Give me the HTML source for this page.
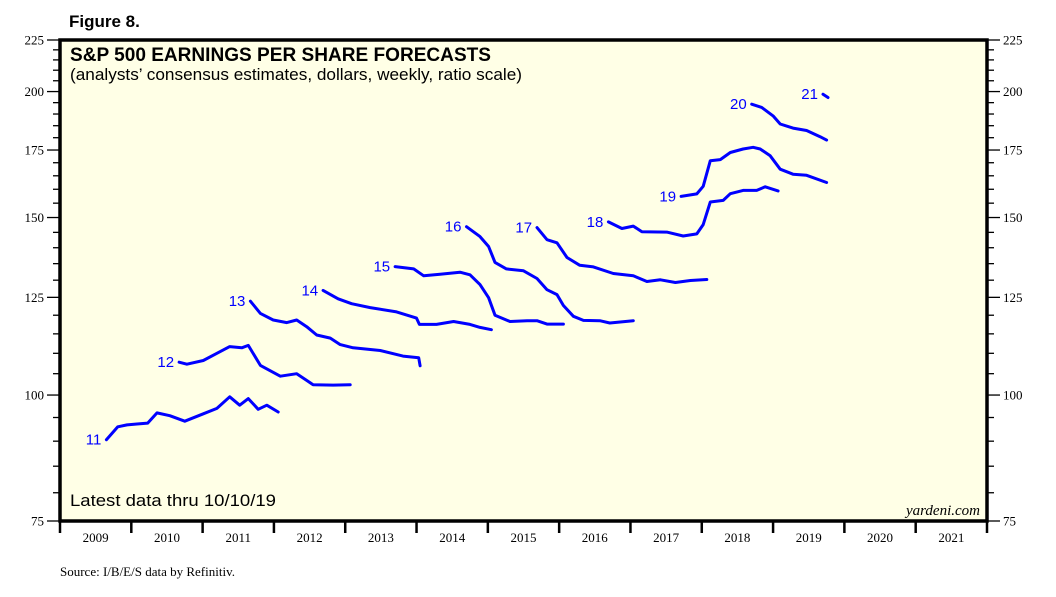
<!DOCTYPE html>
<html><head><meta charset="utf-8"><style>
html,body{margin:0;padding:0;background:#fff;}
svg{display:block;}
</style></head><body>
<svg id="chart" width="1056" height="597" viewBox="0 0 1056 597" xmlns="http://www.w3.org/2000/svg">
<text x="69" y="27" font-family="Liberation Sans, sans-serif" font-weight="bold" font-size="17">Figure 8.</text>
<rect x="60" y="40" width="927" height="481" fill="#ffffe6" stroke="#000" stroke-width="3.5"/>
<text x="70" y="61" font-family="Liberation Sans, sans-serif" font-weight="bold" font-size="19" textLength="421" lengthAdjust="spacingAndGlyphs">S&amp;P 500 EARNINGS PER SHARE FORECASTS</text>
<text x="70" y="80" font-family="Liberation Sans, sans-serif" font-size="17" textLength="452" lengthAdjust="spacingAndGlyphs">(analysts’ consensus estimates, dollars, weekly, ratio scale)</text>
<text x="70" y="506" font-family="Liberation Sans, sans-serif" font-size="17" textLength="206" lengthAdjust="spacingAndGlyphs">Latest data thru 10/10/19</text>
<text x="980" y="515" text-anchor="end" font-family="Liberation Serif, serif" font-style="italic" font-size="15">yardeni.com</text>
<text x="60" y="576" font-family="Liberation Serif, serif" font-size="13">Source: I/B/E/S data by Refinitiv.</text>
<g id="axes"></g>
<g id="series"></g>
</svg>
<script>
const yMin = 75, yMax = 225;
const yTicksMajor = [75, 100, 125, 150, 175, 200, 225];
const yearLabels = ["2009","2010","2011","2012","2013","2014","2015","2016","2017","2018","2019","2020","2021"];
const xStart = 2009, xEnd = 2022;
const seriesNames = ["11","12","13","14","15","16","17","18","19","20","21"];
const t11 = [2009.65,2009.81,2009.94,2010.08,2010.23,2010.36,2010.54,2010.75,2011.01,2011.20,2011.38,2011.52,2011.64,2011.78,2011.90,2012.06];
const v11 = [90.3,93.0,93.4,93.6,93.8,96.0,95.4,94.2,95.8,97.0,99.6,97.7,99.2,96.8,97.7,96.2];
const t12 = [2010.67,2010.78,2011.01,2011.20,2011.38,2011.55,2011.64,2011.81,2012.09,2012.32,2012.55,2012.83,2013.07];
const v12 = [107.8,107.3,108.2,110.0,111.7,111.4,112.0,107.0,104.4,105.0,102.4,102.3,102.4];
const t13 = [2011.67,2011.81,2011.99,2012.18,2012.32,2012.46,2012.60,2012.79,2012.93,2013.11,2013.49,2013.81,2014.03,2014.05];
const v13 = [123.9,120.5,118.7,118.0,118.7,116.9,114.7,113.9,112.2,111.4,110.7,109.3,108.9,106.9];
const t14 = [2012.69,2012.90,2013.09,2013.35,2013.72,2014.00,2014.04,2014.28,2014.52,2014.75,2014.89,2015.05];
const v14 = [127.0,124.6,123.2,122.1,120.9,119.2,117.5,117.5,118.3,117.5,116.7,116.1];
const t15 = [2013.70,2013.96,2014.10,2014.33,2014.61,2014.75,2014.89,2015.01,2015.10,2015.31,2015.55,2015.69,2015.83,2016.06];
const v15 = [134.1,133.4,131.3,131.8,132.4,131.6,128.7,124.9,120.0,118.3,118.5,118.5,117.6,117.6];
const t16 = [2014.70,2014.89,2015.01,2015.10,2015.26,2015.50,2015.69,2015.83,2015.97,2016.06,2016.20,2016.34,2016.57,2016.71,2017.04];
const v16 = [146.9,143.6,140.4,135.4,133.4,132.8,130.5,127.2,125.8,122.7,119.7,118.6,118.5,117.9,118.5];
const t17 = [2015.69,2015.83,2015.97,2016.11,2016.29,2016.48,2016.76,2017.04,2017.23,2017.42,2017.63,2017.84,2018.07];
const v17 = [146.6,142.6,141.6,136.9,134.5,134.0,132.0,131.3,129.6,130.1,129.3,129.9,130.2];
const t18 = [2016.69,2016.88,2017.04,2017.16,2017.51,2017.74,2017.93,2018.02,2018.12,2018.30,2018.40,2018.58,2018.77,2018.89,2019.07];
const v18 = [148.5,146.3,147.1,145.2,145.1,143.8,144.5,147.6,155.4,156.0,158.4,159.6,159.6,160.9,159.4];
const t19 = [2017.71,2017.93,2018.02,2018.12,2018.26,2018.40,2018.58,2018.72,2018.82,2018.96,2019.10,2019.28,2019.47,2019.75];
const v19 = [157.4,158.3,161.1,170.8,171.2,174.0,175.4,176.1,175.4,172.7,167.5,165.6,165.2,162.5];
const t20 = [2018.70,2018.84,2019.00,2019.10,2019.28,2019.47,2019.66,2019.75];
const v20 = [194.3,192.9,189.2,185.7,184.0,183.0,180.4,179.0];
const t21 = [2019.70,2019.77];
const v21 = [198.8,197.3];

const NS = "http://www.w3.org/2000/svg";
const L = 60, R = 987, T = 40, B = 521;
function yScale(v){ return T + (B - T) * Math.log(yMax / v) / Math.log(yMax / yMin); }
function xScale(t){ return L + (R - L) * (t - xStart) / (xEnd - xStart); }
function mk(tag, attrs, parent){ const e = document.createElementNS(NS, tag); for (const k in attrs) e.setAttribute(k, attrs[k]); parent.appendChild(e); return e; }

const axes = document.getElementById("axes");
for (let v = yMin; v <= yMax; v += 5) {
  const major = yTicksMajor.includes(v);
  const y = yScale(v);
  const tl = mk("line", {x1: major ? 47 : 53, x2: L, y1: y, y2: y, stroke: "#000", "stroke-width": 1.3}, axes);
  
  
  const tr = mk("line", {x1: R, x2: major ? 1000 : 994, y1: y, y2: y, stroke: "#000", "stroke-width": 1.3}, axes);
  
  
  if (major) {
    const lt = mk("text", {x: 44, y: y + 4.5, "text-anchor": "end", "font-family": "Liberation Serif, serif", "font-size": 13}, axes);
    lt.textContent = v;
    
    
    const rt = mk("text", {x: 1003, y: y + 4.5, "font-family": "Liberation Serif, serif", "font-size": 13}, axes);
    rt.textContent = v;
    
    
  }
}
for (let i = 0; i <= yearLabels.length; i++) {
  const x = xScale(xStart + i);
  const tk = mk("line", {x1: x, x2: x, y1: B, y2: B + 12, stroke: "#000", "stroke-width": 2.5}, axes);
  
  
  if (i < yearLabels.length) {
    const lb = mk("text", {x: xScale(xStart + i + 0.5), y: B + 21, "text-anchor": "middle", "font-family": "Liberation Serif, serif", "font-size": 13}, axes);
    lb.textContent = yearLabels[i];
    
    
  }
}

const tArr = [t11,t12,t13,t14,t15,t16,t17,t18,t19,t20,t21];
const vArr = [v11,v12,v13,v14,v15,v16,v17,v18,v19,v20,v21];
const sg = document.getElementById("series");
for (let s = 0; s < seriesNames.length; s++) {
  const ts = tArr[s], vs = vArr[s];
  const d = ts.map((t, i) => (i ? "L" : "M") + xScale(t).toFixed(1) + "," + yScale(vs[i]).toFixed(1)).join(" ");
  const p = mk("path", {d: d, fill: "none", stroke: "#0000ff", "stroke-width": 3, "stroke-linejoin": "round", "stroke-linecap": "round"}, sg);
  
  
  const lb = mk("text", {x: xScale(ts[0]) - 5, y: yScale(vs[0]) + 5, "text-anchor": "end", fill: "#0000ff", "font-family": "Liberation Sans, sans-serif", "font-size": 15}, sg);
  lb.textContent = seriesNames[s];
  
  
}
</script>
</body></html>
